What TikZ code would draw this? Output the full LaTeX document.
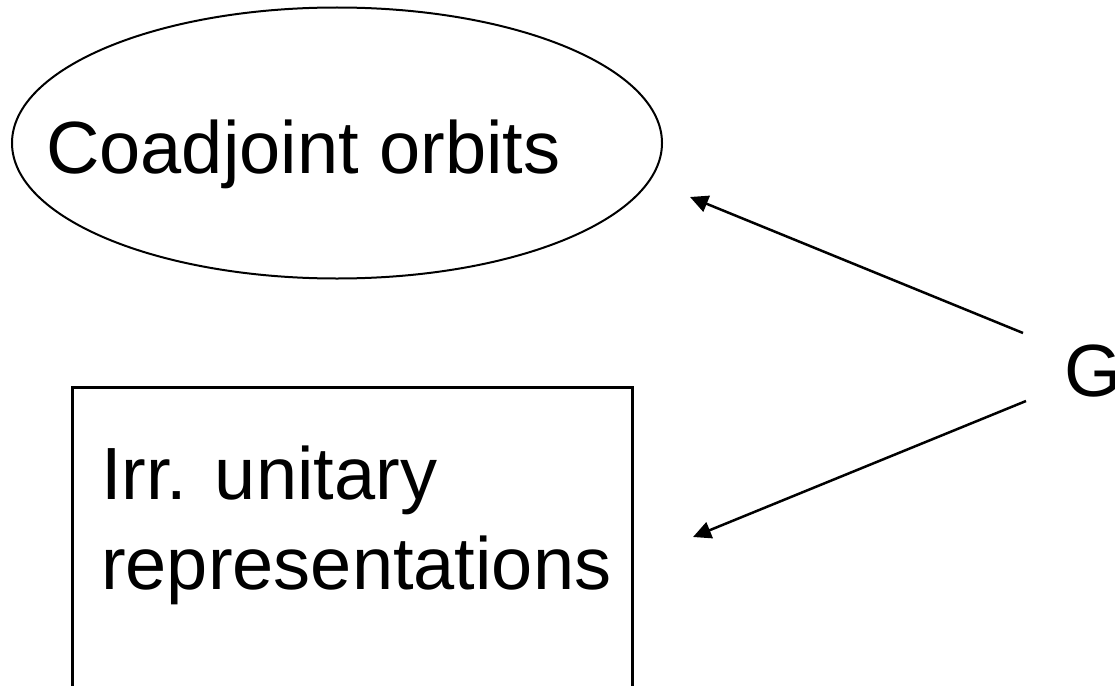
\documentclass[tikz,border=0pt]{standalone}
\usepackage{fontspec}
\setmainfont{Liberation Sans}
\usetikzlibrary{shapes.geometric,arrows.meta}
\begin{document}
\begin{tikzpicture}[x=1pt,y=-1pt,
  big/.style={font=\fontsize{74pt}{90pt}\selectfont, inner sep=0pt, anchor=base west},
  arr/.style={line width=2.5pt,-{Triangle[length=18pt,width=17pt]}}]
\useasboundingbox (0,0) rectangle (1115,685);
\clip (0,0) rectangle (1115,685);
\node[draw, ellipse, line width=2pt, minimum width=650pt, minimum height=271pt, inner sep=0pt] (orbits) at (337,143) {};
\node[big] (orbitstext) at (46,173) {Coadjoint orbits};
\node[draw, line width=3pt, anchor=north west, minimum width=560pt, minimum height=400pt, outer sep=0pt] (irr) at (72,387) {};
\node[big] (irr1) at (101,499) {Irr. unitary};
\node[big] (irr2) at (101,589) {representations};
\node[big] (G) at (1064,396) {G};
\coordinate (gtop) at (1023,333);
\coordinate (gbot) at (1026,401);
\coordinate (tiptop) at (690,197);
\coordinate (tipbot) at (693,537);
\draw[arr] (gtop) -- (tiptop);
\draw[arr] (gbot) -- (tipbot);
\end{tikzpicture}
\end{document}
